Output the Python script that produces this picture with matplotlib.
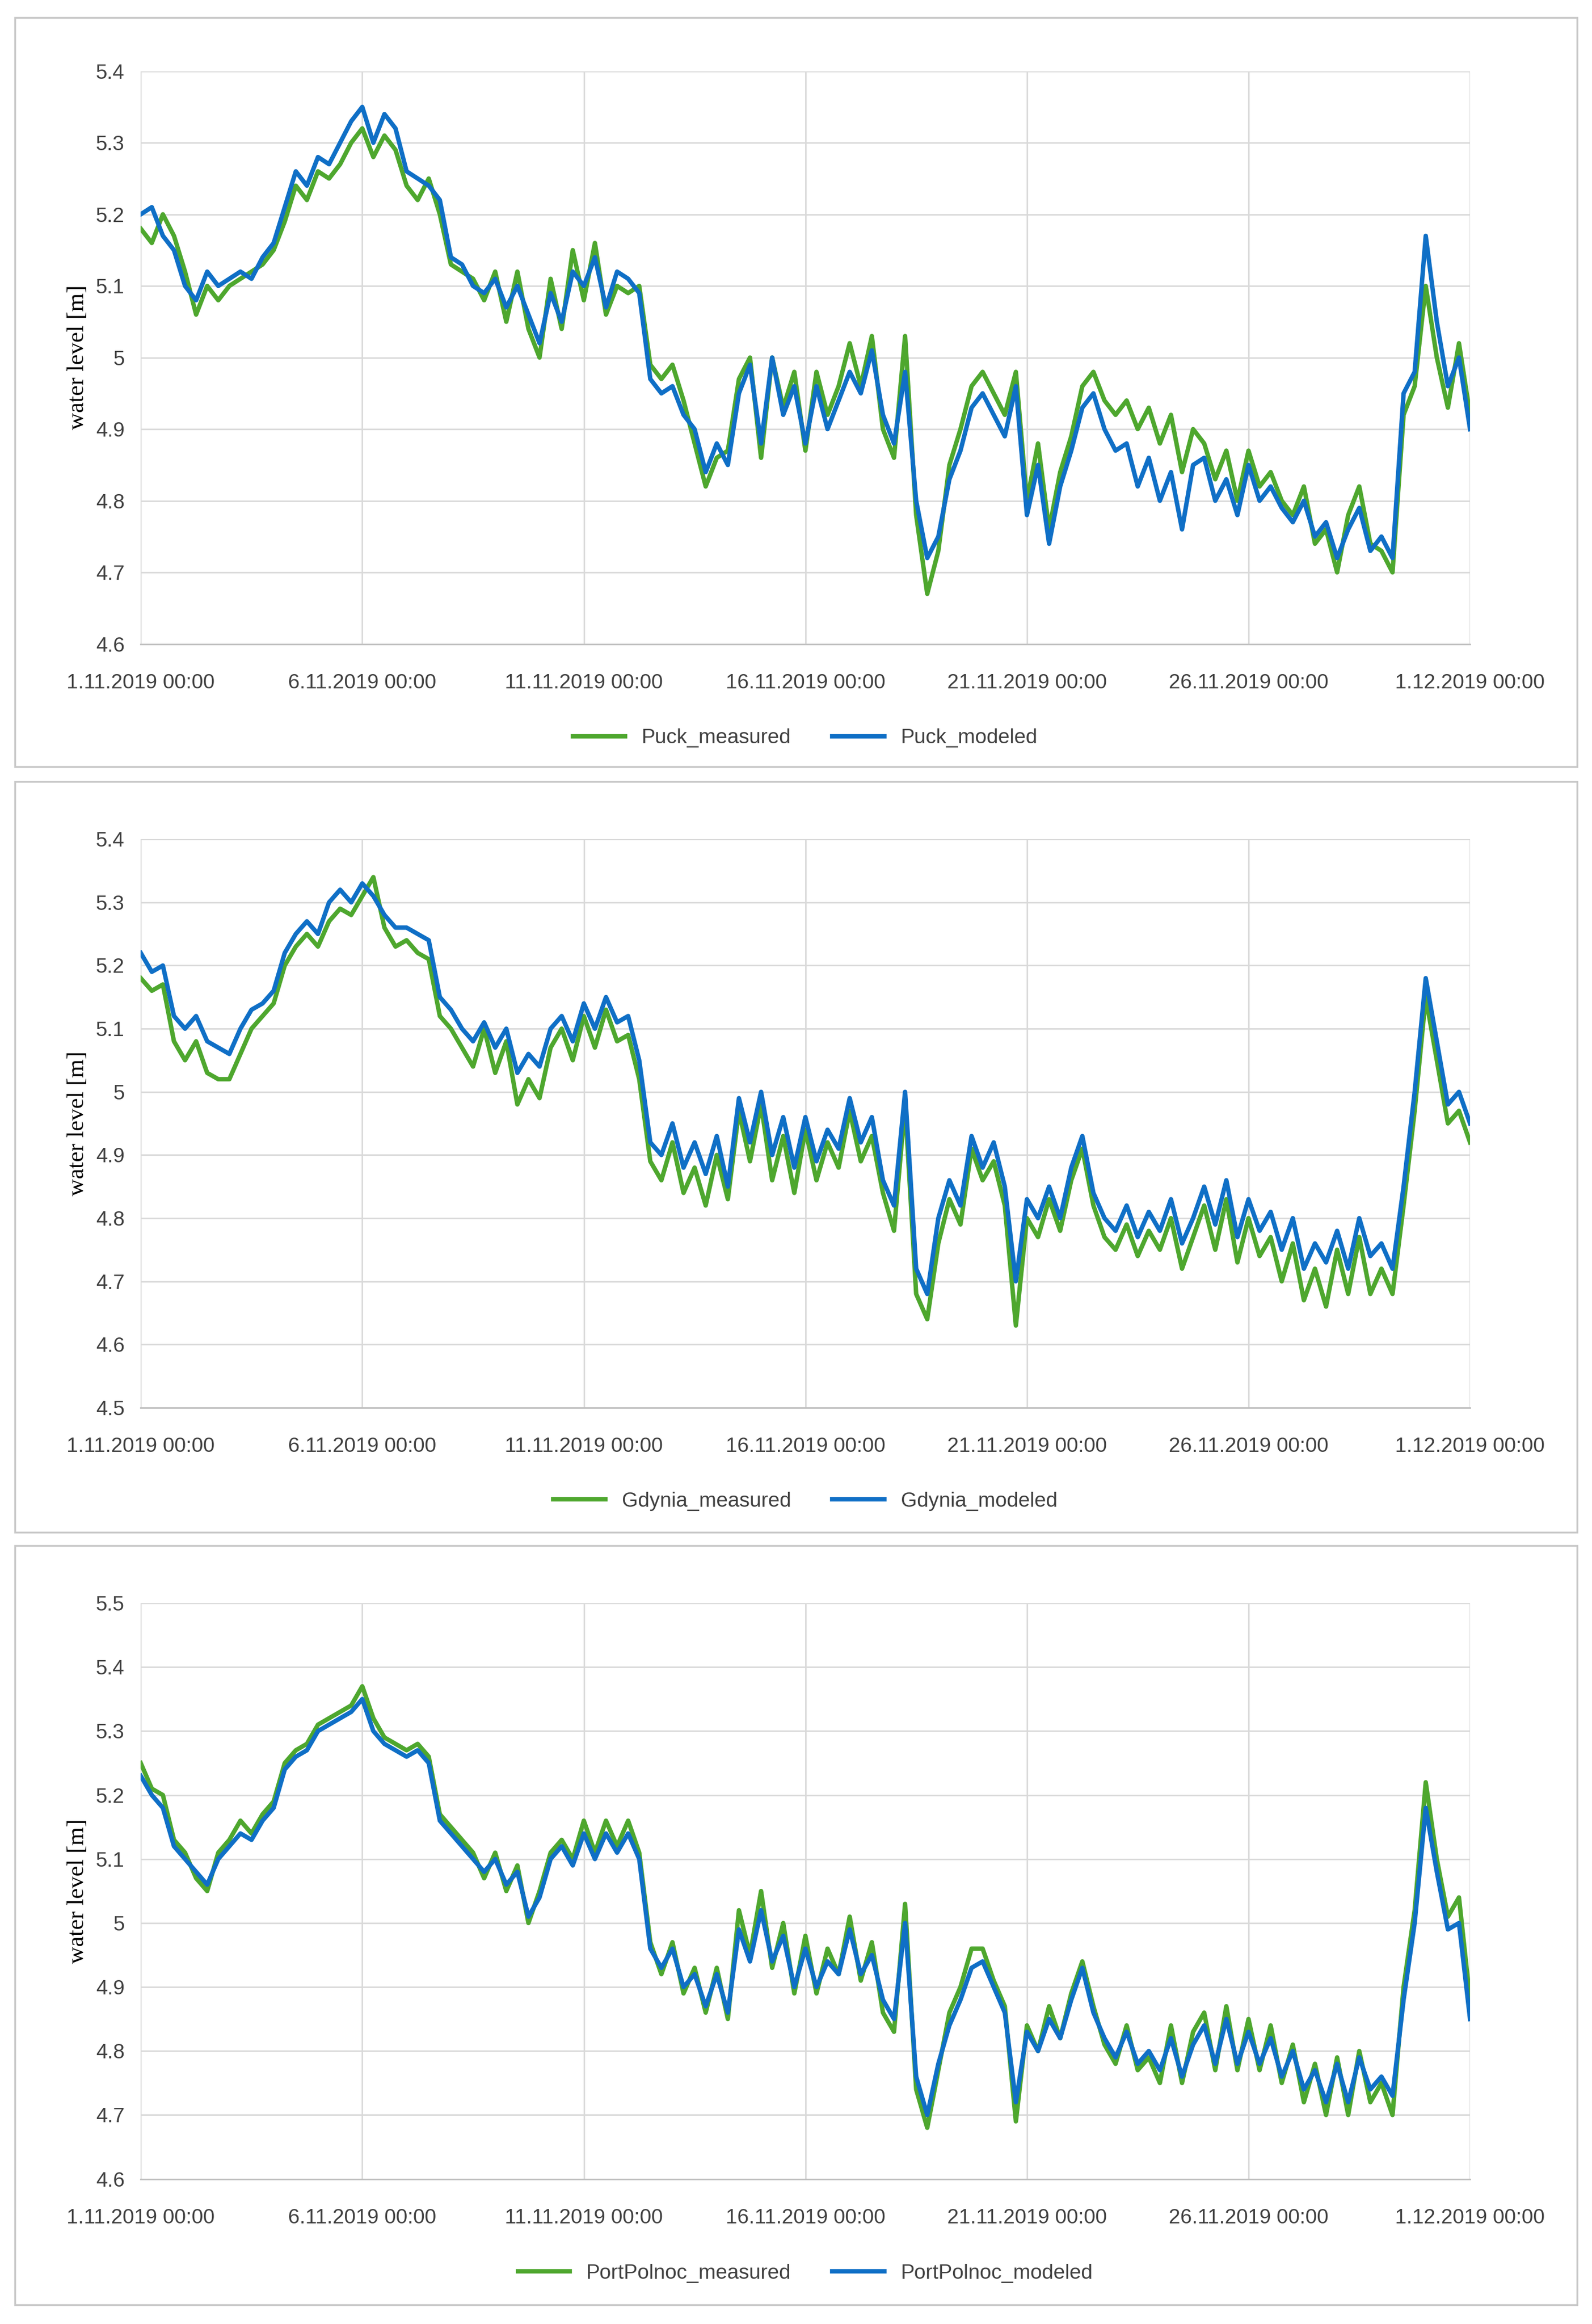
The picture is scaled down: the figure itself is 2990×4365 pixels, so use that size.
import matplotlib
matplotlib.use("Agg")
import matplotlib.pyplot as plt
import numpy as np
from matplotlib.patches import Rectangle

step_days = 0.25
puck_mod = [5.20,5.21,5.17,5.15, 5.10,5.08,5.12,5.10, 5.11,5.12,5.11,5.14, 5.16,5.21,5.26,5.24,
 5.28,5.27,5.30,5.33, 5.35,5.30,5.34,5.32, 5.26,5.25,5.24,5.22, 5.14,5.13,5.10,5.09,
 5.11,5.07,5.10,5.06, 5.02,5.09,5.05,5.12, 5.10,5.14,5.07,5.12, 5.11,5.09,4.97,4.95,
 4.96,4.92,4.90,4.84, 4.88,4.85,4.95,4.99, 4.88,5.00,4.92,4.96, 4.88,4.96,4.90,4.94,
 4.98,4.95,5.01,4.92, 4.88,4.98,4.80,4.72, 4.75,4.83,4.87,4.93, 4.95,4.92,4.89,4.96,
 4.78,4.85,4.74,4.82, 4.87,4.93,4.95,4.90, 4.87,4.88,4.82,4.86, 4.80,4.84,4.76,4.85,
 4.86,4.80,4.83,4.78, 4.85,4.80,4.82,4.79, 4.77,4.80,4.75,4.77, 4.72,4.76,4.79,4.73,
 4.75,4.72,4.95,4.98, 5.17,5.05,4.96,5.00, 4.90]
puck_meas = [5.18,5.16,5.20,5.17, 5.12,5.06,5.10,5.08, 5.10,5.11,5.12,5.13, 5.15,5.19,5.24,5.22,
 5.26,5.25,5.27,5.30, 5.32,5.28,5.31,5.29, 5.24,5.22,5.25,5.20, 5.13,5.12,5.11,5.08,
 5.12,5.05,5.12,5.04, 5.00,5.11,5.04,5.15, 5.08,5.16,5.06,5.10, 5.09,5.10,4.99,4.97,
 4.99,4.94,4.88,4.82, 4.86,4.87,4.97,5.00, 4.86,5.00,4.93,4.98, 4.87,4.98,4.92,4.96,
 5.02,4.96,5.03,4.90, 4.86,5.03,4.78,4.67, 4.73,4.85,4.90,4.96, 4.98,4.95,4.92,4.98,
 4.80,4.88,4.76,4.84, 4.89,4.96,4.98,4.94, 4.92,4.94,4.90,4.93, 4.88,4.92,4.84,4.90,
 4.88,4.83,4.87,4.80, 4.87,4.82,4.84,4.80, 4.78,4.82,4.74,4.76, 4.70,4.78,4.82,4.74,
 4.73,4.70,4.92,4.96, 5.10,5.00,4.93,5.02, 4.92]
gdy_mod = [5.22,5.19,5.20,5.12, 5.10,5.12,5.08,5.07, 5.06,5.10,5.13,5.14, 5.16,5.22,5.25,5.27,
 5.25,5.30,5.32,5.30, 5.33,5.31,5.28,5.26, 5.26,5.25,5.24,5.15, 5.13,5.10,5.08,5.11,
 5.07,5.10,5.03,5.06, 5.04,5.10,5.12,5.08, 5.14,5.10,5.15,5.11, 5.12,5.05,4.92,4.90,
 4.95,4.88,4.92,4.87, 4.93,4.85,4.99,4.92, 5.00,4.90,4.96,4.88, 4.96,4.89,4.94,4.91,
 4.99,4.92,4.96,4.86, 4.82,5.00,4.72,4.68, 4.80,4.86,4.82,4.93, 4.88,4.92,4.85,4.70,
 4.83,4.80,4.85,4.80, 4.88,4.93,4.84,4.80, 4.78,4.82,4.77,4.81, 4.78,4.83,4.76,4.80,
 4.85,4.79,4.86,4.77, 4.83,4.78,4.81,4.75, 4.80,4.72,4.76,4.73, 4.78,4.72,4.80,4.74,
 4.76,4.72,4.85,5.00, 5.18,5.08,4.98,5.00, 4.95]
gdy_meas = [5.18,5.16,5.17,5.08, 5.05,5.08,5.03,5.02, 5.02,5.06,5.10,5.12, 5.14,5.20,5.23,5.25,
 5.23,5.27,5.29,5.28, 5.31,5.34,5.26,5.23, 5.24,5.22,5.21,5.12, 5.10,5.07,5.04,5.10,
 5.03,5.08,4.98,5.02, 4.99,5.07,5.10,5.05, 5.12,5.07,5.13,5.08, 5.09,5.02,4.89,4.86,
 4.92,4.84,4.88,4.82, 4.90,4.83,4.97,4.89, 4.98,4.86,4.93,4.84, 4.94,4.86,4.92,4.88,
 4.97,4.89,4.93,4.84, 4.78,4.98,4.68,4.64, 4.76,4.83,4.79,4.91, 4.86,4.89,4.82,4.63,
 4.80,4.77,4.83,4.78, 4.86,4.91,4.82,4.77, 4.75,4.79,4.74,4.78, 4.75,4.80,4.72,4.77,
 4.82,4.75,4.83,4.73, 4.80,4.74,4.77,4.70, 4.76,4.67,4.72,4.66, 4.75,4.68,4.77,4.68,
 4.72,4.68,4.82,4.97, 5.15,5.05,4.95,4.97, 4.92]
port_mod = [5.23,5.20,5.18,5.12, 5.10,5.08,5.06,5.10, 5.12,5.14,5.13,5.16, 5.18,5.24,5.26,5.27,
 5.30,5.31,5.32,5.33, 5.35,5.30,5.28,5.27, 5.26,5.27,5.25,5.16, 5.14,5.12,5.10,5.08,
 5.10,5.06,5.08,5.01, 5.04,5.10,5.12,5.09, 5.14,5.10,5.14,5.11, 5.14,5.10,4.96,4.93,
 4.96,4.90,4.92,4.87, 4.92,4.86,4.99,4.94, 5.02,4.94,4.98,4.90, 4.96,4.90,4.94,4.92,
 4.99,4.92,4.95,4.88, 4.85,5.00,4.76,4.70, 4.78,4.84,4.88,4.93, 4.94,4.90,4.86,4.72,
 4.83,4.80,4.85,4.82, 4.88,4.93,4.86,4.82, 4.79,4.83,4.78,4.80, 4.77,4.82,4.76,4.81,
 4.84,4.78,4.85,4.78, 4.83,4.78,4.82,4.76, 4.80,4.74,4.77,4.72, 4.78,4.72,4.79,4.74,
 4.76,4.73,4.88,5.00, 5.18,5.08,4.99,5.00, 4.85]
port_meas = [5.25,5.21,5.20,5.13, 5.11,5.07,5.05,5.11, 5.13,5.16,5.14,5.17, 5.19,5.25,5.27,5.28,
 5.31,5.32,5.33,5.34, 5.37,5.32,5.29,5.28, 5.27,5.28,5.26,5.17, 5.15,5.13,5.11,5.07,
 5.11,5.05,5.09,5.00, 5.05,5.11,5.13,5.10, 5.16,5.11,5.16,5.12, 5.16,5.11,4.97,4.92,
 4.97,4.89,4.93,4.86, 4.93,4.85,5.02,4.95, 5.05,4.93,5.00,4.89, 4.98,4.89,4.96,4.92,
 5.01,4.91,4.97,4.86, 4.83,5.03,4.74,4.68, 4.77,4.86,4.90,4.96, 4.96,4.91,4.87,4.69,
 4.84,4.80,4.87,4.82, 4.89,4.94,4.87,4.81, 4.78,4.84,4.77,4.79, 4.75,4.84,4.75,4.83,
 4.86,4.77,4.87,4.77, 4.85,4.77,4.84,4.75, 4.81,4.72,4.78,4.70, 4.79,4.70,4.80,4.72,
 4.75,4.70,4.90,5.02, 5.22,5.10,5.01,5.04, 4.88]

tick_labels = ["1.11.2019 00:00","6.11.2019 00:00","11.11.2019 00:00","16.11.2019 00:00",
               "21.11.2019 00:00","26.11.2019 00:00","1.12.2019 00:00"]
tick_pos = [0,5,10,15,20,25,30]

panels = [
    ("Puck", puck_meas, puck_mod, (4.6, 5.4), [0.7229, 0.9694], (12, 518)),
    ("Gdynia", gdy_meas, gdy_mod, (4.5, 5.4), [0.3943, 0.6389], (528, 1035)),
    ("PortPolnoc", port_meas, port_mod, (4.6, 5.5), [0.0624, 0.3102], (1044, 1557)),
]
GREEN = "#4ea72e"
BLUE = "#0f6fc6"
H = 1570.0

fig = plt.figure(figsize=(29.9, 43.65), dpi=100)
for name, meas, mod, ylim, (b, t), (fy0, fy1) in panels:
    fig.patches.append(Rectangle((10/1075, 1-fy1/H), 1055/1075, (fy1-fy0)/H,
                                 transform=fig.transFigure, fill=False,
                                 edgecolor="#c8c8c8", linewidth=2.5))
    ax = fig.add_axes([0.0884, b, 0.835, t-b])
    x = np.arange(len(meas)) * step_days
    ax.plot(x, meas, color=GREEN, lw=6, label=f"{name}_measured")
    ax.plot(x, mod, color=BLUE, lw=6, label=f"{name}_modeled")
    ax.set_xlim(0, 30)
    ax.set_ylim(*ylim)
    yt = np.round(np.arange(ylim[0], ylim[1]+0.001, 0.1), 1)
    ax.set_yticks(yt)
    ax.set_yticklabels([("%g" % v) for v in yt])
    ax.set_xticks(tick_pos)
    ax.set_xticklabels(tick_labels)
    ax.grid(True, color="#d9d9d9", lw=2)
    ax.set_axisbelow(True)
    for s in ["top", "right", "left"]:
        ax.spines[s].set_visible(False)
    ax.spines["bottom"].set_color("#bfbfbf")
    ax.spines["bottom"].set_linewidth(2)
    ax.tick_params(length=0, labelsize=28, labelcolor="#404040")
    ax.tick_params(axis="x", pad=40)
    ax.tick_params(axis="y", pad=22)
    for lab in ax.get_xticklabels() + ax.get_yticklabels():
        lab.set_family("Liberation Sans")
    ax.set_ylabel("water level [m]", family="Liberation Serif", fontsize=32, labelpad=10)
    ax.legend(loc="upper center", bbox_to_anchor=(0.5, -0.115), ncol=2, frameon=False,
              prop={"family": "Liberation Sans", "size": 28}, handlelength=2.5,
              columnspacing=2.0, labelcolor="#404040")
fig.savefig("out.png", dpi=100, facecolor="white")
